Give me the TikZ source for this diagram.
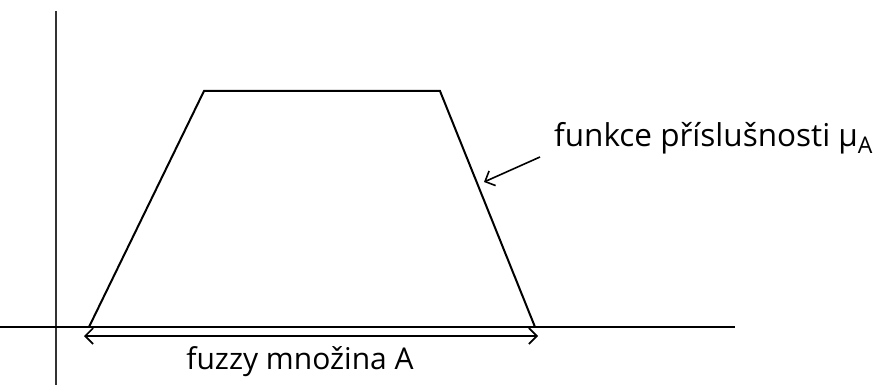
\documentclass[tikz,border=0pt]{standalone}
\usepackage{fontspec}
\setmainfont{Open Sans}
\usetikzlibrary{arrows.meta}
\begin{document}
\begin{tikzpicture}[x=1pt,y=-1pt,
  axis/.style={line width=2.6pt,black},
  curve/.style={line width=2pt,black,line join=miter},
  lbl/.style={font=\fontsize{30}{34}\selectfont,inner sep=0pt},
  tipb/.tip={Straight Barb[length=8pt,width=16pt]},
  arr/.style={line width=1.6pt,-tipb}]
\useasboundingbox (0,0) rectangle (881,385);
\draw[line width=2pt,black!80] (56,11) -- (56,385);
\draw[axis] (0,327) -- (735,327);
\coordinate (p0) at (89,327);
\coordinate (p1) at (204,91);
\coordinate (p2) at (440,91);
\coordinate (p3) at (535,327);
\draw[curve] (p0) -- (p1) -- (p2) -- (p3);
\coordinate (sa) at (84,336);
\coordinate (sb) at (538,336);
\draw[line width=1.6pt,tipb-tipb] (sa) -- (sb);
\node[lbl] (set) at (300,362) {fuzzy množina A};
\node[lbl,font=\fontsize{31.5}{34}\selectfont,anchor=base west] (fn) at (554,147) {funkce příslušnosti μ{\fontsize{23}{24}\selectfont\raisebox{-6pt}{A}}};
\coordinate (tip) at (484,182);
\draw[arr] (540,157) -- (tip);
\end{tikzpicture}
\end{document}
